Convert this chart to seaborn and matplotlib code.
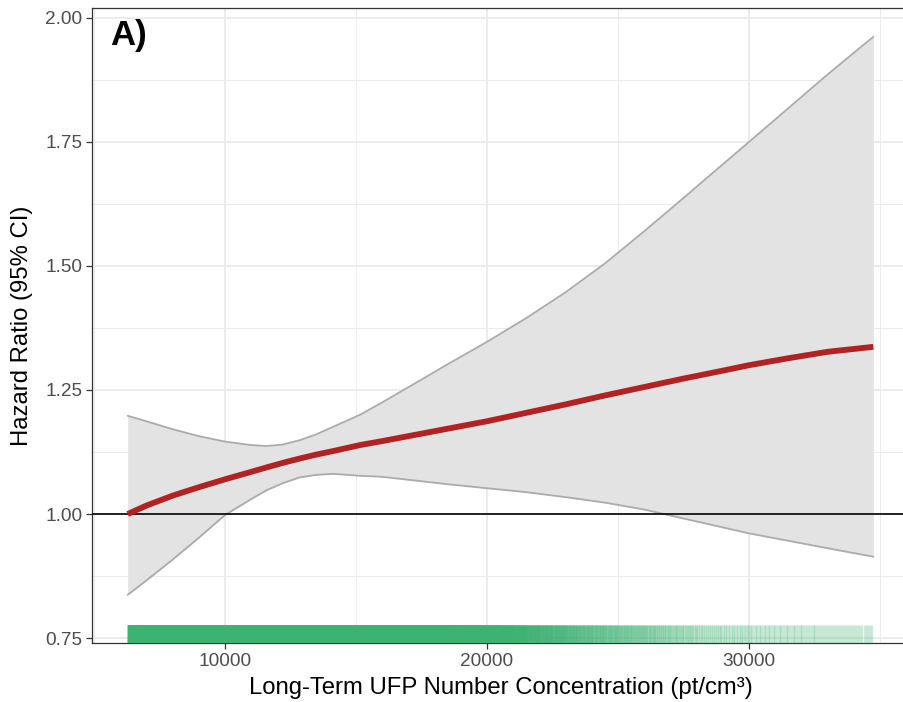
import numpy as np
import seaborn as sns
import matplotlib.pyplot as plt
from matplotlib.ticker import MultipleLocator

# exposure values (pt/cm3) where the curves were read
ufp_x = [6286, 7000, 8000, 9000, 10000, 11000, 11590, 12200, 12863, 13500,
         14134, 15153, 16000, 17500, 18500, 20000, 21500, 23000, 24500,
         26000, 27500, 29000, 30000, 31500, 33000, 34745]
# hazard ratio fit and 95% CI
hr_fit = [1.000, 1.017, 1.037, 1.054, 1.070, 1.085, 1.094, 1.103, 1.112,
          1.120, 1.127, 1.139, 1.147, 1.162, 1.172, 1.187, 1.204, 1.221,
          1.239, 1.256, 1.273, 1.289, 1.300, 1.314, 1.327, 1.337]
hr_upper = [1.198, 1.187, 1.171, 1.157, 1.146, 1.139, 1.137, 1.140, 1.149,
            1.161, 1.176, 1.200, 1.225, 1.271, 1.302, 1.347, 1.395, 1.447,
            1.505, 1.570, 1.637, 1.705, 1.750, 1.818, 1.886, 1.962]
hr_lower = [0.837, 0.866, 0.908, 0.952, 0.998, 1.030, 1.048, 1.062, 1.074,
            1.079, 1.081, 1.077, 1.075, 1.066, 1.060, 1.052, 1.044, 1.034,
            1.023, 1.009, 0.991, 0.973, 0.961, 0.946, 0.931, 0.914]

# rug: number of subjects per exposure bin (read from the shading)
rug_edges = [6286, 7000, 8000, 9000, 10000, 11000, 12000, 13000, 14000,
             15000, 16000, 17000, 18000, 18500, 19000, 19500, 20000, 20500,
             21000, 21500, 22000, 22500, 23000, 23500, 24000, 24500, 25000,
             25500, 26000, 26500, 27000, 27500, 28000, 29000, 30000, 31000,
             32000, 33000, 34000, 34745]
rug_counts = [300, 400, 400, 400, 400, 400, 400, 400, 400, 400, 400, 400,
              200, 190, 180, 165, 150, 135, 118, 100, 88, 78, 70, 62, 56,
              50, 45, 40, 36, 32, 28, 25, 40, 36, 32, 30, 28, 26, 18]

rug_x = np.concatenate([
    np.linspace(a, b, n, endpoint=False)
    for a, b, n in zip(rug_edges[:-1], rug_edges[1:], rug_counts)
])

sns.set_theme(style="white")
plt.rcParams['font.family'] = ['Liberation Sans', 'DejaVu Sans']

fig = plt.figure(figsize=(9.04, 7.02), dpi=100)
ax = fig.add_axes([92 / 904, 59 / 702, 818 / 904, 635 / 702])

# grid like theme_bw
ax.set_axisbelow(True)
ax.xaxis.set_major_locator(MultipleLocator(10000))
ax.xaxis.set_minor_locator(MultipleLocator(5000))
ax.yaxis.set_major_locator(MultipleLocator(0.25))
ax.yaxis.set_minor_locator(MultipleLocator(0.125))
ax.grid(which='major', color='#EBEBEB', lw=1.3)
ax.grid(which='minor', color='#EBEBEB', lw=0.7)

ax.fill_between(ufp_x, hr_lower, hr_upper, color='#E3E3E3', lw=0, zorder=2)
ax.plot(ufp_x, hr_upper, color='#ABABAB', lw=1.3, zorder=3)
ax.plot(ufp_x, hr_lower, color='#ABABAB', lw=1.3, zorder=3)

ax.axhline(1.0, color='black', lw=1.2, zorder=4)

sns.lineplot(x=ufp_x, y=hr_fit, color='#B22222', lw=4.2, ax=ax, zorder=5,
             solid_capstyle='butt')

sns.rugplot(x=rug_x, ax=ax, height=0.029, color='#3CB371', alpha=0.22,
            lw=0.6, zorder=6)

ax.set_xlim(4924, 36145)
ax.set_ylim(0.740, 2.020)
ax.yaxis.set_major_formatter(plt.FuncFormatter(lambda v, p: f"{v:.2f}"))
ax.xaxis.set_major_formatter(plt.FuncFormatter(lambda v, p: f"{int(v)}"))

for s in ax.spines.values():
    s.set_color('#333333')
    s.set_linewidth(0.9)

ax.tick_params(which='major', length=4, width=0.9, color='#333333',
               labelsize=13.7, labelcolor='#4D4D4D', pad=3,
               bottom=True, left=True)
ax.tick_params(which='minor', length=0)

ax.set_xlabel("Long-Term UFP Number Concentration (pt/cm³)", fontsize=17.2,
              color='black')
ax.set_ylabel("Hazard Ratio (95% CI)", fontsize=17.2, color='black')
ax.xaxis.label.set_va('center')
ax.yaxis.label.set_va('center')
ax.xaxis.set_label_coords(0.5, -(688 - 643) / 635)
ax.yaxis.set_label_coords(-(92 - 22) / 818, 0.5)

ax.text(0.022, 0.942, "A)", transform=ax.transAxes, fontsize=25,
        fontweight='bold', va='baseline', ha='left', color='black')

fig.savefig("out.png", dpi=100)
